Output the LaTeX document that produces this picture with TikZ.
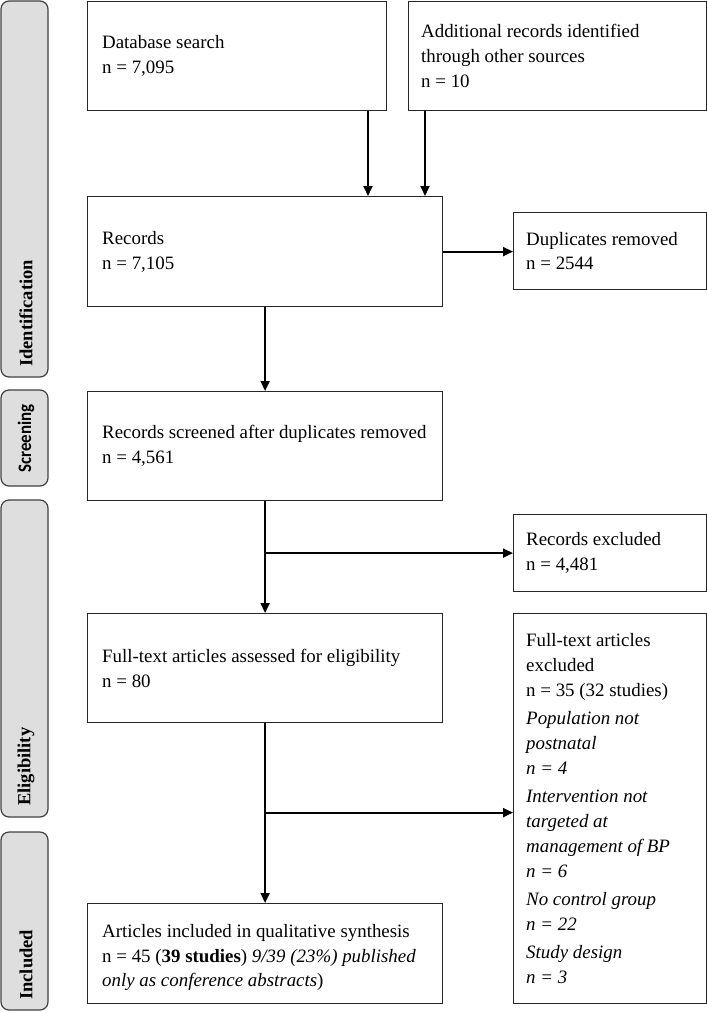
\documentclass[tikz,border=0pt]{standalone}
\usepackage{fontspec}
\setmainfont{Liberation Serif}
\newfontfamily\calib[FakeStretch=0.89]{Carlito}
\usetikzlibrary{arrows.meta,calc}
\begin{document}
\begin{tikzpicture}[x=1pt,y=-1pt,
  box/.style={draw=black!85, line width=1.2pt, inner sep=0pt, anchor=north west},
  txt/.style={inner sep=0pt, align=left, anchor=west, font=\fontsize{18.9}{24.8}\selectfont},
  bar/.style={draw=black!75, fill=black!13, line width=1.2pt, rounded corners=8pt},
  barlabel/.style={rotate=90, anchor=west, font=\fontsize{18.5}{20}\selectfont\bfseries, inner sep=0pt},
  arr/.style={line width=1.8pt, -{Triangle[length=10pt,width=9pt]}}]
\useasboundingbox (0,0) rectangle (707,1013);

% side bars
\draw[bar] (1,1) rectangle (48,377);
\draw[bar] (1,390) rectangle (48,486);
\draw[bar] (1,500) rectangle (48,817);
\draw[bar] (1,832) rectangle (48,1010);
\node[barlabel] (lid) at (26,367) {Identification};
\node[barlabel, font=\fontsize{19}{20}\selectfont\calib\bfseries] (lscr) at (26,473) {Screening};
\node[barlabel] (lel) at (26,806) {Eligibility};
\node[barlabel] (lin) at (26,1000) {Included};

% boxes
\node[box, minimum width=299pt, minimum height=109pt] (db) at (87,1) {};
\node[box, minimum width=298pt, minimum height=109pt] (add) at (408,1) {};
\node[box, minimum width=355pt, minimum height=110pt] (rec) at (87,196) {};
\node[box, minimum width=193pt, minimum height=77pt] (dup) at (513,212) {};
\node[box, minimum width=355pt, minimum height=109pt] (scr) at (87,391) {};
\node[box, minimum width=193pt, minimum height=77pt] (rexc) at (513,514) {};
\node[box, minimum width=355pt, minimum height=109pt] (ft) at (87,613) {};
\node[box, minimum width=193pt, minimum height=390pt] (ftx) at (513,613) {};
\node[box, minimum width=355pt, minimum height=100pt] (inc) at (87,903) {};

% texts
\node[txt] (tdb) at ([xshift=15pt]db.west) {Database search\\n = 7,095};
\node[txt] (tadd) at ([xshift=13pt]add.west) {Additional records identified\\through other sources\\n = 10};
\node[txt] (trec) at ([xshift=15pt]rec.west) {Records\\n = 7,105};
\node[txt] (tdup) at ([xshift=13pt]dup.west) {Duplicates removed\\n = 2544};
\node[txt] (tscr) at ([xshift=15pt]scr.west) {Records screened after duplicates removed\\n = 4,561};
\node[txt] (trexc) at ([xshift=13pt]rexc.west) {Records excluded\\n = 4,481};
\node[txt] (tft) at ([xshift=15pt]ft.west) {Full-text articles assessed for eligibility\\n = 80};
\node[txt] (tftx) at ([xshift=13pt]ftx.west) {Full-text articles\\excluded\\n = 35 (32 studies)\\[3.5pt]
\textit{Population not}\\\textit{postnatal}\\\textit{n = 4}\\[3.5pt]
\textit{Intervention not}\\\textit{targeted at}\\\textit{management of BP}\\\textit{n = 6}\\[3.5pt]
\textit{No control group}\\\textit{n = 22}\\[3.5pt]
\textit{Study design}\\\textit{n = 3}};
\node[txt] (tinc) at ([xshift=15pt,yshift=-4pt]inc.west) {Articles included in qualitative synthesis\\n = 45 (\textbf{39 studies}) \textit{9/39 (23\%) published}\\\textit{only as conference abstracts})};

% connectors
\draw[arr] ([xshift=281pt]db.south west) -- ([xshift=281pt]rec.north west);
\draw[arr] ([xshift=17pt]add.south west) -- ([xshift=338pt]rec.north west);
\draw[arr] (rec.east) -- (rec.east -| dup.west);
\draw[arr] (rec.south) -- (scr.north);
\draw[arr] (scr.south) -- (ft.north);
\draw[arr] (scr.south |- rexc.west) -- (rexc.west);
\draw[arr] (ft.south) -- (inc.north);
\draw[arr] ([yshift=-4pt]ft.south |- ftx.west) -- ([yshift=-4pt]ftx.west);
\end{tikzpicture}
\end{document}
